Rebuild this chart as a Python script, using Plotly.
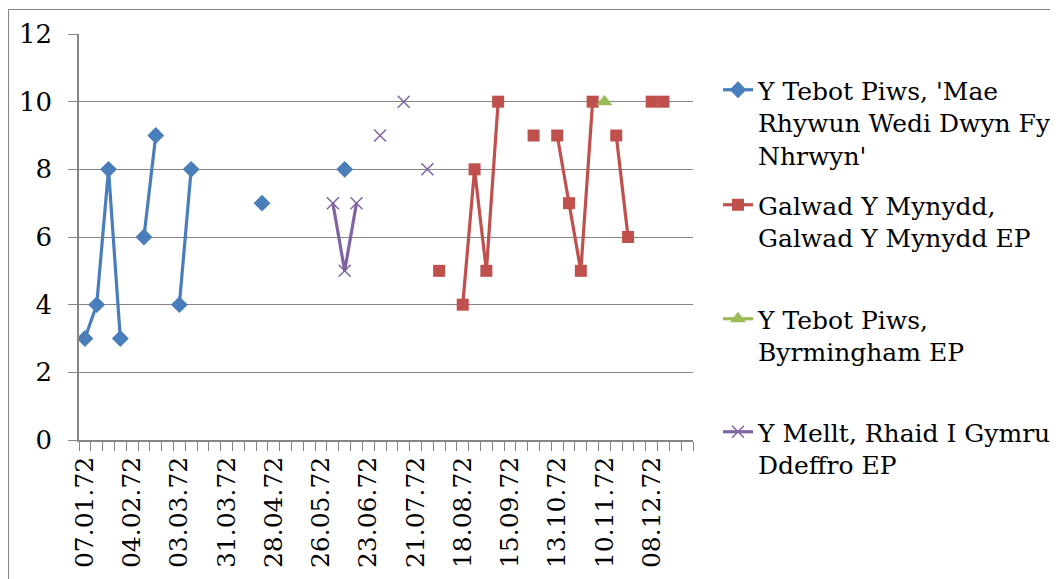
import plotly.graph_objects as go

weeks = ["07.01.72", "14.01.72", "21.01.72", "28.01.72", "04.02.72", "11.02.72", "18.02.72", "25.02.72",
         "03.03.72", "10.03.72", "17.03.72", "24.03.72", "31.03.72", "07.04.72", "14.04.72", "21.04.72",
         "28.04.72", "05.05.72", "12.05.72", "19.05.72", "26.05.72", "02.06.72", "09.06.72", "16.06.72",
         "23.06.72", "30.06.72", "07.07.72", "14.07.72", "21.07.72", "28.07.72", "04.08.72", "11.08.72",
         "18.08.72", "25.08.72", "01.09.72", "08.09.72", "15.09.72", "22.09.72", "29.09.72", "06.10.72",
         "13.10.72", "20.10.72", "27.10.72", "03.11.72", "10.11.72", "17.11.72", "24.11.72", "01.12.72",
         "08.12.72", "15.12.72", "22.12.72", "29.12.72"]
tick_labels = ["07.01.72", "04.02.72", "03.03.72", "31.03.72", "28.04.72", "26.05.72", "23.06.72",
               "21.07.72", "18.08.72", "15.09.72", "13.10.72", "10.11.72", "08.12.72"]

# chart positions (None = not charted that week)
tebot_mae = {0: 3, 1: 4, 2: 8, 3: 3, 5: 6, 6: 9, 8: 4, 9: 8, 15: 7, 22: 8}
galwad = {30: 5, 32: 4, 33: 8, 34: 5, 35: 10, 38: 9, 40: 9, 41: 7, 42: 5, 43: 10,
          45: 9, 46: 6, 48: 10, 49: 10}
tebot_byrm = {44: 10}
mellt = {21: 7, 22: 5, 23: 7, 25: 9, 27: 10, 29: 8}

names = ["Y Tebot Piws, 'Mae<br>Rhywun Wedi Dwyn Fy<br>Nhrwyn'",
         "Galwad Y Mynydd,<br>Galwad Y Mynydd EP",
         "Y Tebot Piws,<br>Byrmingham EP",
         "Y Mellt, Rhaid I Gymru<br>Ddeffro EP"]


def series(d):
    return [d.get(i) for i in range(len(weeks))]


FONT = "DejaVu Serif"
GRAY = "#868686"

# page offset (body margin) and plot area in screen pixels
OFF = 8
W, H = 1058, 579
L, R, T, B = 79 - OFF, 693 - OFF, 34 - OFF, 440 - OFF


def px2paper_x(px):
    return (px - OFF - L) / (R - L)


def px2paper_y(py):
    return (B - (py - OFF)) / (B - T)


fig = go.Figure()
styles = [
    (tebot_mae, "#4A7EBB", dict(symbol="diamond", size=13, color="#4A7EBB"), "legend"),
    (galwad, "#C0504D", dict(symbol="square", size=12, color="#C0504D"), "legend2"),
    (tebot_byrm, "#9BBB59", dict(symbol="triangle-up", size=14, color="#9BBB59"), "legend3"),
    (mellt, "#8064A2", dict(symbol="x-thin-open", size=12, color="#8064A2",
                            line=dict(color="#8064A2", width=1.5)), "legend4"),
]
for (d, col, mk, lg), nm in zip(styles, names):
    fig.add_trace(go.Scatter(x=weeks, y=series(d), name=nm, mode="lines+markers",
                             line=dict(color=col, width=3.2), marker=mk,
                             connectgaps=False, legend=lg))

leg_tops = [67, 182, 296, 409]
legend_common = dict(font=dict(family=FONT, size=25, color="#000000"), bgcolor="rgba(0,0,0,0)",
                     borderwidth=0, valign="top", xanchor="left", yanchor="top",
                     x=px2paper_x(718))
fig.update_layout(
    width=W, height=H,
    margin=dict(l=L, r=W - R, t=T, b=H - B, autoexpand=False),
    paper_bgcolor="white", plot_bgcolor="white",
    font=dict(family=FONT, size=25, color="#000000"),
    showlegend=True,
    legend=dict(y=px2paper_y(leg_tops[0]), **legend_common),
    legend2=dict(y=px2paper_y(leg_tops[1]), **legend_common),
    legend3=dict(y=px2paper_y(leg_tops[2]), **legend_common),
    legend4=dict(y=px2paper_y(leg_tops[3]), **legend_common),
    xaxis=dict(type="category", categoryorder="array", categoryarray=weeks,
               range=[-0.5, len(weeks) - 0.5], automargin=False,
               tickmode="array", tickvals=weeks,
               ticktext=[w if w in tick_labels else "" for w in weeks],
               tickson="boundaries", ticks="outside", ticklen=9, tickcolor=GRAY, tickwidth=1,
               tickangle=-90, tickfont=dict(family=FONT, size=25), ticklabelstandoff=5,
               showline=True, linecolor=GRAY, linewidth=1.5, showgrid=False, zeroline=False),
    yaxis=dict(range=[0, 12], dtick=2, tick0=0, ticks="outside", ticklen=9, tickcolor=GRAY,
               tickwidth=1, tickfont=dict(family=FONT, size=26), ticklabelstandoff=11,
               automargin=False,
               showline=True, linecolor=GRAY, linewidth=1.5,
               showgrid=True, gridcolor=GRAY, gridwidth=1, zeroline=False),
    shapes=[dict(type="rect", xref="paper", yref="paper",
                 x0=px2paper_x(8.5), x1=px2paper_x(1200), y0=px2paper_y(700), y1=px2paper_y(9.5),
                 line=dict(color=GRAY, width=1), fillcolor="rgba(0,0,0,0)", layer="below")],
)

fig.write_html("out.html")
